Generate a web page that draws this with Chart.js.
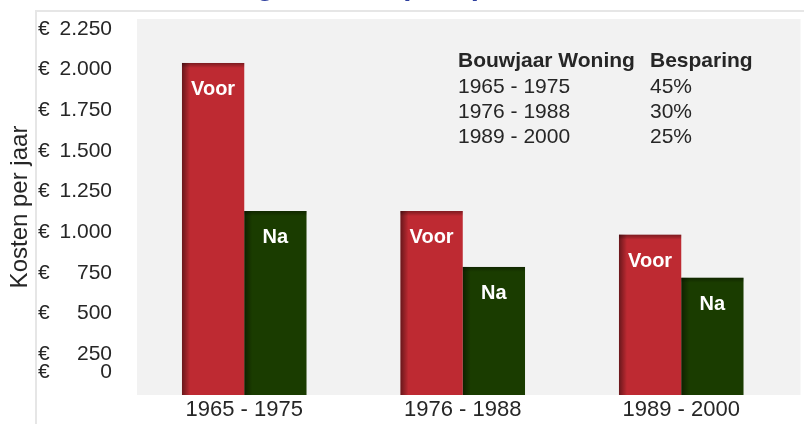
<!DOCTYPE html>
<html><head><meta charset="utf-8">
<script src="https://cdn.jsdelivr.net/npm/chart.js@4"></script>
<style>html,body{margin:0;padding:0;background:#fff;overflow:hidden}#wrap{width:804px;height:424px;position:relative}</style>
</head><body><div id="wrap"><canvas id="c" width="804" height="424"></canvas></div>
<script>
const categories = ['1965 - 1975', '1976 - 1988', '1989 - 2000'];
const seriesNames = ['Voor', 'Na'];
const voorValues = [2040, 1130, 985];
const naValues = [1130, 787, 720];
const savings = ['45%', '30%', '25%'];
const tableHeaders = ['Bouwjaar Woning', 'Besparing'];
const yTicks = [0, 250, 500, 750, 1000, 1250, 1500, 1750, 2000, 2250];
const yTitle = 'Kosten per jaar';
const chartTitle = 'Energiekosten (euro) voor en na isolatie woning';

const FONT = '"Liberation Sans", Arial, Helvetica, sans-serif';
const TXT = '#262626';
const fmt = v => String(v).replace(/\B(?=(\d{3})+(?!\d))/g, '.');

const deco = {
  id: 'deco',
  beforeDraw(chart) {
    const {ctx, chartArea: a} = chart;
    ctx.save();
    ctx.fillStyle = '#fff';
    ctx.fillRect(0, 0, chart.width, chart.height);
    ctx.fillStyle = '#e6e6e6';
    ctx.fillRect(35, 10, chart.width - 35, 2);
    ctx.fillRect(35, 10, 2, chart.height - 10);
    ctx.fillStyle = '#f2f2f2';
    ctx.fillRect(a.left + 2, a.top, a.right + 10 - (a.left + 2), a.bottom - a.top);
    ctx.fillStyle = '#2e3f9e';
    ctx.font = 'bold 29px ' + FONT;
    ctx.textAlign = 'left';
    ctx.textBaseline = 'alphabetic';
    ctx.fillText(chartTitle, 192, -5);
    ctx.restore();
  },
  afterDatasetsDraw(chart) {
    const ctx = chart.ctx;
    ctx.save();
    chart.data.datasets.forEach((ds, i) => {
      const meta = chart.getDatasetMeta(i);
      meta.data.forEach(bar => {
        const {x, y, base, width} = bar.getProps(['x', 'y', 'base', 'width'], true);
        const l = x - width / 2;
        let g = ctx.createLinearGradient(l, 0, l + 8, 0);
        g.addColorStop(0, 'rgba(0,0,0,0.45)');
        g.addColorStop(1, 'rgba(0,0,0,0)');
        ctx.fillStyle = g;
        ctx.fillRect(l, y, 8, base - y);
        g = ctx.createLinearGradient(0, y, 0, y + 5);
        g.addColorStop(0, 'rgba(0,0,0,0.35)');
        g.addColorStop(1, 'rgba(0,0,0,0)');
        ctx.fillStyle = g;
        ctx.fillRect(l, y, width, 5);
        ctx.fillStyle = '#fff';
        ctx.font = 'bold 20px ' + FONT;
        ctx.textAlign = 'center';
        ctx.textBaseline = 'middle';
        ctx.fillText(ds.label, x, y + 26.5);
      });
    });
    ctx.restore();
  },
  afterDraw(chart) {
    const {ctx, chartArea: a, scales: {y}} = chart;
    ctx.save();
    ctx.fillStyle = TXT;
    ctx.font = '21px ' + FONT;
    ctx.textBaseline = 'middle';
    yTicks.forEach(v => {
      let py = y.getPixelForValue(v);
      py = Math.min(py, a.bottom - 22.5);
      ctx.textAlign = 'left';
      ctx.fillText('€', 38, py);
      ctx.textAlign = 'right';
      ctx.fillText(fmt(v), 112, py);
    });
    ctx.save();
    ctx.translate(20, (a.top + a.bottom) / 2);
    ctx.rotate(-Math.PI / 2);
    ctx.textAlign = 'center';
    ctx.font = '24px ' + FONT;
    ctx.fillText(yTitle, 0, 0);
    ctx.restore();
    ctx.textAlign = 'left';
    ctx.font = 'bold 21px ' + FONT;
    ctx.fillText(tableHeaders[0], 458, 61);
    ctx.fillText(tableHeaders[1], 650, 61);
    ctx.font = '21px ' + FONT;
    categories.forEach((c, i) => {
      ctx.fillText(c, 458, 87.5 + 25 * i);
      ctx.fillText(savings[i], 650, 87.5 + 25 * i);
    });
    ctx.restore();
  }
};

new Chart(document.getElementById('c'), {
  type: 'bar',
  data: {
    labels: categories,
    datasets: [
      {label: seriesNames[0], data: voorValues, backgroundColor: '#be2a32', borderWidth: 0, categoryPercentage: 0.57, barPercentage: 1},
      {label: seriesNames[1], data: naValues, backgroundColor: '#1a3c00', borderWidth: 0, categoryPercentage: 0.57, barPercentage: 1}
    ]
  },
  options: {
    responsive: false,
    animation: false,
    devicePixelRatio: 1,
    layout: {padding: {left: 135, right: 13.5, top: 19, bottom: 0}},
    plugins: {legend: {display: false}, tooltip: {enabled: false}, title: {display: false}},
    scales: {
      x: {
        grid: {display: false, drawTicks: false},
        border: {display: false},
        ticks: {font: {size: 22, family: FONT}, color: TXT, padding: 2, maxRotation: 0},
        afterFit(scale) { scale.height = 29; }
      },
      y: {display: false, min: 0, max: 2310}
    }
  },
  plugins: [deco]
});
</script></body></html>
